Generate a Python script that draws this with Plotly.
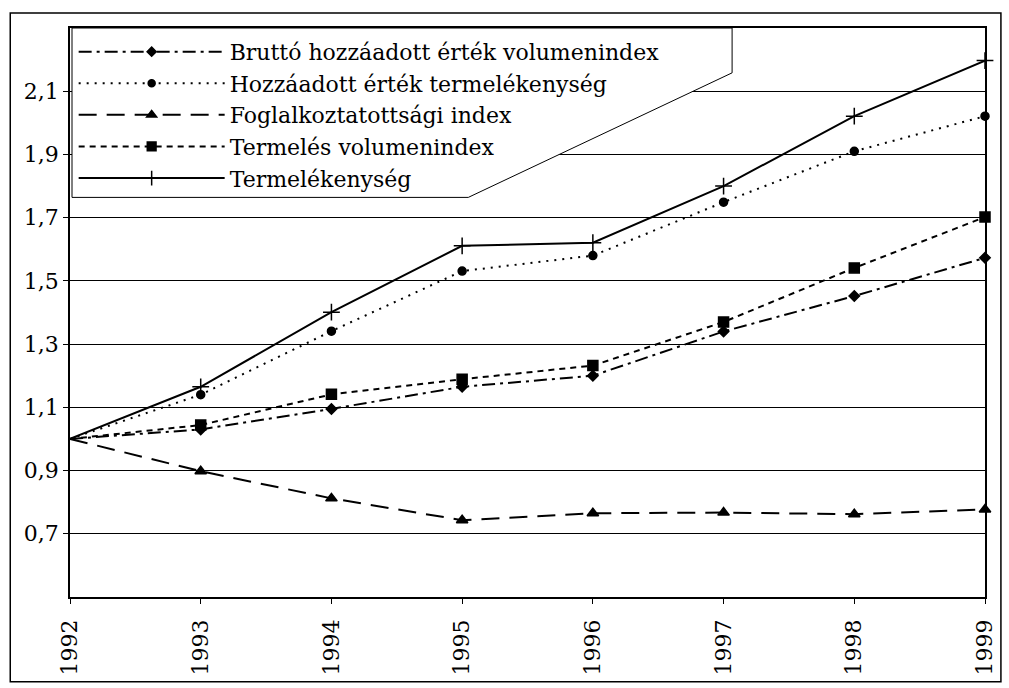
import plotly.graph_objects as go

years = [1992, 1993, 1994, 1995, 1996, 1997, 1998, 1999]
year_labels = [str(y) for y in years]

series_names = [
    "Bruttó hozzáadott érték volumenindex",
    "Hozzáadott érték termelékenység",
    "Foglalkoztatottsági index",
    "Termelés volumenindex",
    "Termelékenység",
]
brutto = [1.0, 1.03, 1.095, 1.165, 1.20, 1.34, 1.452, 1.573]
hozzaadott = [1.0, 1.14, 1.341, 1.531, 1.58, 1.749, 1.91, 2.021]
foglalk = [1.0, 0.898, 0.812, 0.743, 0.765, 0.767, 0.762, 0.777]
termeles = [1.0, 1.044, 1.141, 1.189, 1.232, 1.37, 1.541, 1.702]
termelekenyseg = [1.0, 1.165, 1.401, 1.611, 1.621, 1.80, 2.021, 2.197]

ytick_vals = [0.7, 0.9, 1.1, 1.3, 1.5, 1.7, 1.9, 2.1]
ytick_text = ["0,7", "0,9", "1,1", "1,3", "1,5", "1,7", "1,9", "2,1"]

INK = "#000000"
FONT = "DejaVu Serif"

styles = [
    dict(dash="13px,5px,3px,5px", symbol="diamond", size=8),
    dict(dash="2px,6px", symbol="circle", size=8),
    dict(dash="18px,10px", symbol="triangle-up", size=10),
    dict(dash="6px,5px", symbol="square", size=10),
    dict(dash="solid", symbol="cross-thin", size=12),
]
data = [brutto, hozzaadott, foglalk, termeles, termelekenyseg]

fig = go.Figure()
for name, vals, st in zip(series_names, data, styles):
    sizes = [0] + [st["size"]] * (len(vals) - 1)
    fig.add_trace(go.Scatter(
        x=years, y=vals, name=name, mode="lines+markers",
        line=dict(color=INK, width=2, dash=st["dash"]),
        marker=dict(symbol=st["symbol"], size=sizes, color=INK, opacity=1,
                    line=dict(color=INK, width=1.5)),
        cliponaxis=False,
    ))

fig.update_layout(
    width=1009, height=688,
    margin=dict(l=70, r=20, t=28, b=89),
    paper_bgcolor="white", plot_bgcolor="white",
    font=dict(family=FONT, size=22, color="black"),
    showlegend=True,
    legend=dict(
        x=0.004, y=0.995, xanchor="left", yanchor="top",
        bgcolor="rgba(0,0,0,0)", borderwidth=0,
        font=dict(family=FONT, size=22, color="black"),
        itemwidth=146, tracegroupgap=0,
    ),
    xaxis=dict(
        range=[1992, 1999], tickvals=years, ticktext=year_labels,
        tickangle=-90, ticks="outside", ticklen=5, tickcolor=INK,
        ticklabelstandoff=7,
        showline=True, linecolor=INK, linewidth=1.5, mirror=True,
        showgrid=False, zeroline=False,
        tickfont=dict(family=FONT, size=22, color="black"),
    ),
    yaxis=dict(
        range=[0.5, 2.3], tickvals=ytick_vals, ticktext=ytick_text,
        ticks="outside", ticklen=5, tickcolor=INK,
        showline=True, linecolor=INK, linewidth=1.5, mirror=True,
        showgrid=True, gridcolor=INK, gridwidth=1, zeroline=False,
        tickfont=dict(family=FONT, size=22, color="black"),
    ),
    shapes=[
        dict(type="rect", xref="paper", yref="paper",
             x0=-0.0653, x1=1.0174, y0=-0.1489, y1=1.0263,
             line=dict(color=INK, width=1.5), layer="below"),
        dict(type="path", xref="paper", yref="paper",
             path="M 0.0022 1 L 0.7236 1 L 0.7236 0.9212 L 0.4353 0.7023 L 0.0022 0.7023 Z",
             fillcolor="white", line=dict(color=INK, width=1), layer="above"),
    ],
)

fig.write_html(
    "out.html",
    config={"displayModeBar": False},
    post_script="document.body.style.margin='0';document.body.style.overflow='hidden';",
)
